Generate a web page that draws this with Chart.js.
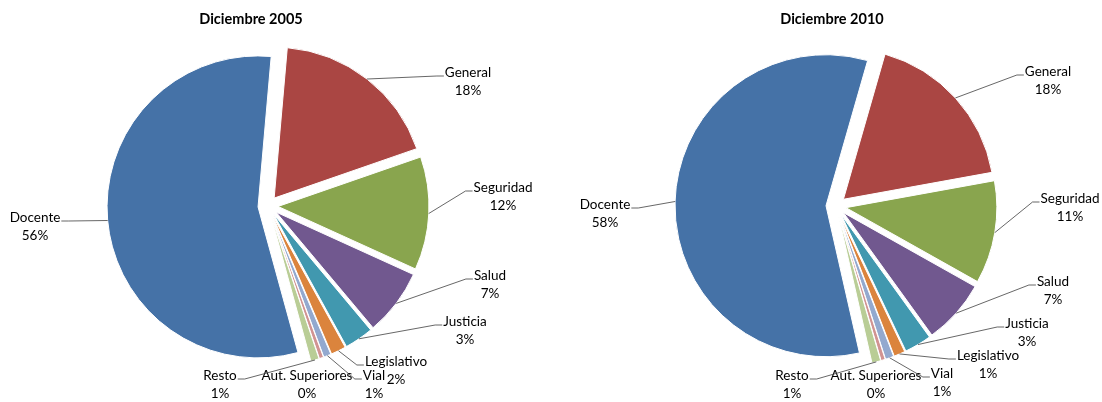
<!DOCTYPE html>
<html>
<head>
<meta charset="utf-8">
<script src="https://cdn.jsdelivr.net/npm/chart.js@4.4.1/dist/chart.umd.min.js"></script>
<style>
  html, body { margin: 0; padding: 0; background: #fff; }
  #wrap { position: relative; width: 1102px; height: 402px; }
  .box { position: absolute; top: 0; width: 551px; height: 402px; }
</style>
</head>
<body>
<div id="wrap">
  <div class="box" style="left:0"><canvas id="c2005"></canvas></div>
  <div class="box" style="left:551px"><canvas id="c2010"></canvas></div>
</div>
<script>
const categories = ['General', 'Seguridad', 'Salud', 'Justicia', 'Legislativo', 'Vial', 'Aut. Superiores', 'Resto', 'Docente'];
const values2005 = [18.3, 12.1, 7.1, 3.1, 1.6, 0.8, 0.45, 0.9, 55.65];
const values2010 = [17.7, 11.0, 6.9, 2.9, 1.2, 0.9, 0.45, 0.95, 58.0];
const colors = ['#AA4643', '#89A54E', '#71588F', '#4198AF', '#DB843D', '#93A9CF', '#D19392', '#B9CD96', '#4572A7'];

// where each label block sits, relative to the pie centre
const labelPos2005 = [[200, -124], [235, -9], [222, 79], [197, 125], [128, 165], [106, 179], [39, 179], [-48, 179], [-233, 21]];
const labelPos2010 = [[212, -125], [234, 2], [217, 85], [191, 127], [152, 159], [106, 177], [40, 179], [-44, 179], [-231, 8]];

const FONT = 'Lato, "Open Sans", sans-serif';

const pieLabels = {
  id: 'pieLabels',
  // chart.js grows and narrows exploded small slices, undo that so all share one radius
  afterDatasetsUpdate(chart) {
    const meta = chart.getDatasetMeta(0);
    const R = meta.controller.outerRadius;
    meta.data.forEach(arc => {
      const d = (arc.options.offset || 0) / 4;
      const fix = 1 - Math.sin(Math.min(Math.PI, arc.circumference));
      const ro = d * fix;
      arc.outerRadius = R - ro;
      const widen = ro / Math.PI / R / 2;
      arc.startAngle -= widen;
      arc.endAngle += widen;
    });
  },
  afterDraw(chart, args, opts) {
    const ctx = chart.ctx;
    const meta = chart.getDatasetMeta(0);
    const data = chart.data.datasets[0].data;
    const total = data.reduce((a, b) => a + b, 0);
    const R = meta.controller.outerRadius;
    const cx = meta.data[0].x;

    ctx.save();
    ctx.fillStyle = '#000';
    ctx.textAlign = 'center';
    ctx.textBaseline = 'middle';
    ctx.font = 'bold 14.5px ' + FONT;
    ctx.fillText(opts.title, cx + opts.titleDx, opts.titleY);

    ctx.font = '13.5px ' + FONT;
    ctx.strokeStyle = '#404040';
    ctx.lineWidth = 0.8;
    meta.data.forEach((arc, i) => {
      const mid = (arc.startAngle + arc.endAngle) / 2;
      const d = (arc.options.offset || 0) / 4;
      const ax = arc.x + Math.cos(mid) * (d + R);
      const ay = arc.y + Math.sin(mid) * (d + R);
      const lx = arc.x + opts.positions[i][0];
      const ly = arc.y + opts.positions[i][1];
      const name = chart.data.labels[i];
      const pct = Math.round(data[i] / total * 100) + '%';
      const y1 = ly - 9, y2 = ly + 9;
      ctx.fillText(name, lx, y1);
      ctx.fillText(pct, lx, y2);

      const w = ctx.measureText(name).width;
      const left = lx - w / 2, right = lx + w / 2;
      if (ax < left - 2 || ax > right + 2) {
        const toLeft = ax < left;
        const ex = toLeft ? left - 1 : right + 1;
        const ey = y1 + 3;
        const kx = toLeft ? ex - 7 : ex + 7;
        ctx.beginPath();
        ctx.moveTo(ax, ay);
        ctx.lineTo(kx, ey);
        ctx.lineTo(ex, ey);
        ctx.stroke();
      }
    });
    ctx.restore();
  }
};

function makePie(id, values, rotation, positions, title, titleDx, padding) {
  return new Chart(document.getElementById(id), {
    type: 'pie',
    data: {
      labels: categories,
      datasets: [{
        data: values,
        backgroundColor: colors,
        borderColor: '#fff',
        borderWidth: 1,
        offset: 40
      }]
    },
    options: {
      responsive: true,
      maintainAspectRatio: false,
      animation: false,
      events: [],
      rotation: rotation,
      radius: 151,
      layout: { padding: padding },
      plugins: {
        legend: { display: false },
        tooltip: { enabled: false },
        title: { display: false },
        pieLabels: { title: title, titleDx: titleDx, titleY: 19, positions: positions }
      }
    },
    plugins: [pieLabels]
  });
}

makePie('c2005', values2005, 5, labelPos2005, 'Diciembre 2005', -17, { left: 0, right: 15, top: 10, bottom: 0 });
makePie('c2010', values2010, 16, labelPos2010, 'Diciembre 2010', -4, { left: 19, right: 0, top: 10, bottom: 0 });
</script>
</body>
</html>
